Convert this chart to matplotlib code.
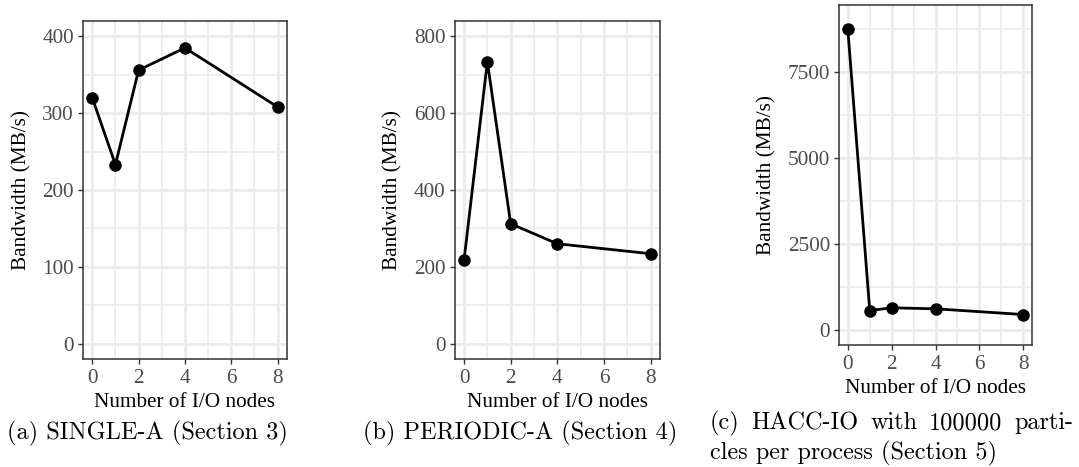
import matplotlib
matplotlib.use("Agg")
import matplotlib.pyplot as plt
from matplotlib.ticker import MultipleLocator

# data
io_nodes = [0, 1, 2, 4, 8]
single_a = [320, 233, 356, 385, 308]
periodic_a = [217, 734, 312, 260, 234]
hacc_io = [8746, 555, 633, 604, 438]

panels = [
    # (values, ymax, major step, axes rect)
    (single_a, 400, 100, [0.0769, 0.2313, 0.189, 0.7238]),
    (periodic_a, 800, 200, [0.4214, 0.2313, 0.1903, 0.7238]),
    (hacc_io, 9000, 2500, [0.7776, 0.2612, 0.1789, 0.7281]),
]
captions = ["(a) SINGLE-A (Section 3)", "(b) PERIODIC-A (Section 4)"]
caption_c1 = ["(c)", "HACC-IO", "with", "100000", "parti-"]
caption_c2 = "cles per process (Section 5)"

SERIF = ["Liberation Serif", "DejaVu Serif"]
CM = ["cmr10", "DejaVu Serif"]
plt.rcParams["axes.unicode_minus"] = False

W, H = 1079, 467
fig = plt.figure(figsize=(W / 100, H / 100), dpi=100)

for vals, ymax, step, rect in panels:
    ax = fig.add_axes(rect)
    ax.plot(io_nodes, vals, color="black", lw=2.0, marker="o", ms=8, zorder=3)
    ax.set_xlim(-0.4, 8.4)
    pad = ymax * 0.05
    ax.set_ylim(-pad, ymax + pad)
    ax.xaxis.set_major_locator(MultipleLocator(2))
    ax.xaxis.set_minor_locator(MultipleLocator(1))
    ax.yaxis.set_major_locator(MultipleLocator(step))
    ax.yaxis.set_minor_locator(MultipleLocator(step / 2))
    ax.grid(which="major", color="#ebebeb", lw=2.0)
    ax.grid(which="minor", color="#ebebeb", lw=1.2)
    ax.set_axisbelow(True)
    for s in ax.spines.values():
        s.set_color("#333333")
        s.set_linewidth(1.1)
    ax.tick_params(which="major", length=3.5, width=1.0, color="#333333",
                   labelcolor="#4d4d4d", labelsize=15.3)
    ax.tick_params(axis="x", pad=4)
    ax.tick_params(axis="y", pad=3)
    ax.tick_params(which="minor", length=0)
    for lab in ax.get_xticklabels() + ax.get_yticklabels():
        lab.set_family(SERIF)
    ax.set_xlabel("Number of I/O nodes", family=SERIF, fontsize=15.3, labelpad=3)
    ax.set_ylabel("Bandwidth (MB/s)", family=SERIF, fontsize=15.3, labelpad=8)

fig.text(147 / W, 1 - 433 / H, captions[0], family=CM, fontsize=17.5,
         ha="center", va="center")
fig.text(520 / W, 1 - 433 / H, captions[1], family=CM, fontsize=17.5,
         ha="center", va="center")

# justified first line of caption (c)
left, right = 710, 1073
words = [fig.text(0, 1 - 423 / H, w, family=CM, fontsize=17.5, ha="left",
                  va="center") for w in caption_c1]
renderer = fig.canvas.get_renderer()
widths = [t.get_window_extent(renderer).width for t in words]
gap = (right - left - sum(widths)) / (len(words) - 1)
x = left
for t, wd in zip(words, widths):
    t.set_x(x / W)
    x += wd + gap
fig.text(left / W, 1 - 453 / H, caption_c2, family=CM, fontsize=17.5,
         ha="left", va="center")

fig.savefig("out.png", dpi=100)
